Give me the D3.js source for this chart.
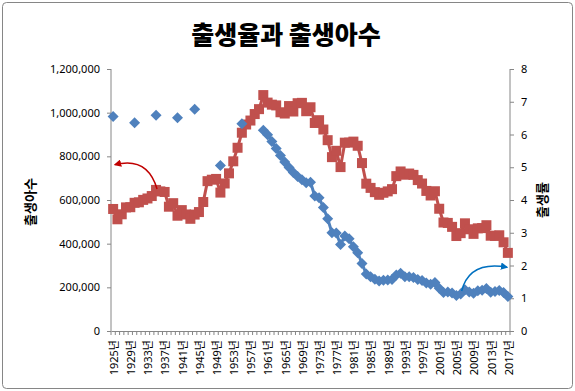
<!DOCTYPE html>
<html><head><meta charset="utf-8">
<script src="https://cdn.jsdelivr.net/npm/d3@7"></script>
<style>body{margin:0;background:#fff}svg{display:block}</style>
</head><body>
<svg id="c" width="575" height="391"></svg>
<script>
const years = d3.range(1925, 2018);
const births = [558897,511667,534524,566142,566969,587144,589428,600545,607021,618135,
646158,639355,636839,569299,585482,527964,553690,533768,513846,533215,
544786,590763,686334,692948,696508,633976,675666,722018,777186,839293,
908134,945780,963952,993628,1016173,1080535,1046086,1036659,1033220,1001833,
996052,1030245,1005295,1043321,1044943,1006645,1024773,952780,965521,922823,
874030,796331,825339,750728,862669,862835,867409,848312,769155,674793,
655489,636019,623831,633092,639431,649738,709275,730678,715826,721185,
715020,691226,675394,641594,620668,640089,559934,496911,495036,476958,
435031,448153,493189,465892,444849,470171,471265,484550,436455,435435,
438420,406243,357771];
const rates = [6.55,null,null,null,null,6.36,null,null,null,null,
6.59,null,null,null,null,6.51,null,null,null,6.77,
null,null,null,null,null,5.05,null,null,null,null,
6.33,null,null,null,null,6.13,5.99,5.79,5.57,5.36,
5.16,4.99,4.84,4.72,4.62,4.53,4.54,4.12,4.07,3.77,
3.43,3.00,2.99,2.64,2.90,2.82,2.57,2.39,2.06,1.74,
1.66,1.58,1.53,1.55,1.56,1.57,1.71,1.76,1.654,1.656,
1.634,1.574,1.54,1.464,1.425,1.48,1.309,1.178,1.191,1.164,
1.085,1.132,1.259,1.192,1.149,1.226,1.244,1.297,1.187,1.205,
1.239,1.172,1.052];
const leftTicks = [0,200000,400000,600000,800000,1000000,1200000];
const rightTicks = [0,1,2,3,4,5,6,7,8];
const labelYears = d3.range(1925, 2018, 4);
const title = "출생율과 출생아수";
const leftTitle = "출생아수";
const rightTitle = "출생률";

const svg = d3.select("#c");
const L = 111, R = 510, T = 69, B = 331;
const font = "'Noto Sans','Noto Sans CJK KR',sans-serif";
const axisColor = "#868686";
const red = "#C0504D", blue = "#4F81BD";

svg.append("rect").attr("x",2.5).attr("y",2.5).attr("width",570).attr("height",386)
  .attr("rx",4).attr("fill","#fff").attr("stroke","#868686").attr("stroke-width",1);

const x = d3.scaleBand().domain(years).range([L, R]).padding(0);
const yL = d3.scaleLinear().domain([0,1200000]).range([B, T]);
const yR = d3.scaleLinear().domain([0,8]).range([B, T]);
const cx = d => x(d) + x.bandwidth()/2;

// Title
svg.append("text").attr("x",286).attr("y",44).attr("text-anchor","middle")
  .attr("font-family","'Noto Sans CJK KR',sans-serif").attr("font-weight","900")
  .attr("font-size",25).attr("fill","#000").text(title);

// left axis
const gl = svg.append("g").attr("transform",`translate(${L},0)`)
  .call(d3.axisLeft(yL).tickValues(leftTicks).tickSize(4).tickPadding(7).tickFormat(d3.format(",")));
// right axis
const gr = svg.append("g").attr("transform",`translate(${R},0)`)
  .call(d3.axisRight(yR).tickValues(rightTicks).tickSize(4).tickPadding(7).tickFormat(d3.format("d")));
// bottom axis
const gb = svg.append("g").attr("transform",`translate(0,${B})`)
  .call(d3.axisBottom(x).tickValues([]).tickSizeOuter(0));
// category boundary ticks
gb.selectAll("line.ct").data(d3.range(years.length+1)).join("line").attr("class","ct")
  .attr("x1",i => L + i*x.bandwidth()).attr("x2",i => L + i*x.bandwidth())
  .attr("y1",0).attr("y2",4).attr("stroke",axisColor);
[gl,gr,gb].forEach(g => {
  g.selectAll(".domain").attr("stroke",axisColor).attr("stroke-width",1);
  g.selectAll(".tick line").attr("stroke",axisColor);
  g.selectAll("text").attr("font-family",font).attr("font-size",11).attr("fill","#000");
});
gl.select(".domain").attr("d",`M-0,${T}H0V${B}H-0`);
gr.select(".domain").attr("d",`M0,${T}H0V${B}H0`);

// x labels
svg.append("g").selectAll("text").data(labelYears).join("text")
  .attr("transform",d => `translate(${cx(d)+1},340) rotate(-90)`)
  .attr("text-anchor","end").attr("dy","0.35em")
  .attr("font-family",font).attr("font-size",11).attr("fill","#000")
  .text(d => d + "년");

// axis titles
svg.append("text").attr("transform","translate(30,202) rotate(-90)")
  .attr("text-anchor","middle").attr("dy","0.35em")
  .attr("font-family","'Noto Sans CJK KR',sans-serif").attr("font-weight","bold")
  .attr("font-size",13).text(leftTitle);
svg.append("text").attr("transform","translate(542,200) rotate(-90)")
  .attr("text-anchor","middle").attr("dy","0.35em")
  .attr("font-family","'Noto Sans CJK KR',sans-serif").attr("font-weight","bold")
  .attr("font-size",13).text(rightTitle);

// births series
const bData = years.map((y,i) => ({y, v: births[i]}));
svg.append("path").datum(bData)
  .attr("d", d3.line().x(d => cx(d.y)).y(d => yL(d.v)))
  .attr("fill","none").attr("stroke",red).attr("stroke-width",3);
svg.append("g").selectAll("rect").data(bData).join("rect")
  .attr("x",d => cx(d.y)-5).attr("y",d => yL(d.v)-5).attr("width",10).attr("height",10)
  .attr("fill",red);

// rate series
const rData = years.map((y,i) => ({y, v: rates[i]}));
svg.append("path").datum(rData)
  .attr("d", d3.line().defined(d => d.v != null).x(d => cx(d.y)).y(d => yR(d.v)))
  .attr("fill","none").attr("stroke",blue).attr("stroke-width",3);
svg.append("g").selectAll("path").data(rData.filter(d => d.v != null)).join("path")
  .attr("d", "M0,-5.5L5.5,0L0,5.5L-5.5,0Z")
  .attr("transform", d => `translate(${cx(d.y)},${yR(d.v)})`)
  .attr("fill",blue);

// annotation arrows
const defs = svg.append("defs");
function marker(id, col){
  defs.append("marker").attr("id",id).attr("viewBox","0 0 10 10").attr("refX",8).attr("refY",5)
    .attr("markerWidth",5).attr("markerHeight",5).attr("orient","auto")
    .append("path").attr("d","M0,0L10,5L0,10z").attr("fill",col);
}
marker("ar","#C00000"); marker("ab","#0070C0");
const r0 = [cx(1935)+1, yL(births[10])-1], r1 = [cx(1925)+2, yL(762000)];
svg.append("path").attr("d",`M${r0[0]},${r0[1]} Q${cx(1933)},${yL(800000)} ${r1[0]},${r1[1]}`)
  .attr("fill","none").attr("stroke","#C00000").attr("stroke-width",1.5).attr("marker-end","url(#ar)");
const b0 = [cx(2006)+1, yR(1.22)], b1 = [cx(2017)-1, yR(1.95)];
svg.append("path").attr("d",`M${b0[0]},${b0[1]} Q${cx(2008)},${yR(2.15)} ${b1[0]},${b1[1]}`)
  .attr("fill","none").attr("stroke","#0070C0").attr("stroke-width",1.5).attr("marker-end","url(#ab)");
</script>
</body></html>
